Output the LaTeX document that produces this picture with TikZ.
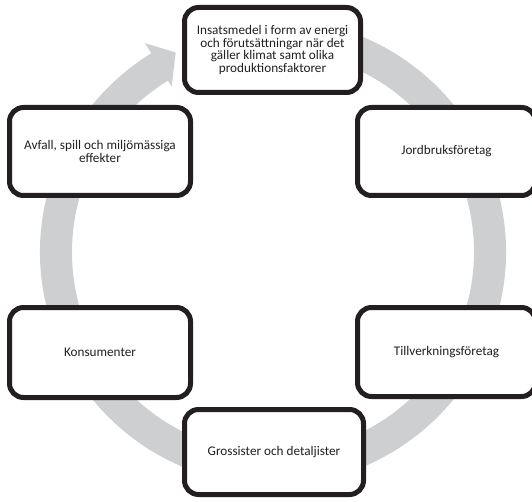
\documentclass[tikz,border=0pt]{standalone}
\usepackage{fontspec}
\setmainfont{Carlito}
\definecolor{ringc}{RGB}{206,207,209}
\definecolor{boxc}{RGB}{35,31,32}
\definecolor{txtc}{RGB}{35,31,32}
\begin{document}
\begin{tikzpicture}[x=1pt,y=1pt,
  stagebox/.style={draw=boxc, line width=5pt, rounded corners=14pt, fill=white,
    text=txtc, align=center, inner sep=2pt,
    font=\fontsize{13.2}{12.6}\selectfont}]
\useasboundingbox (0,0) rectangle (532,501);
\clip (0,0) rectangle (532,501);
% cycle ring with arrow head
\begin{scope}[shift={(273,249)}]
\fill[ringc] (75:233pt) arc[start angle=75, end angle=-238.5, radius=233pt]
  -- (-238.5:245pt) -- (-244:222pt) -- (-238.5:194pt) -- (-238.5:201pt)
  arc[start angle=-238.5, end angle=75, radius=201pt] -- cycle;
\end{scope}
% stages
\node[stagebox, minimum width=176pt, minimum height=85pt] (top) at (272.5,451)
  {Insatsmedel i form av energi\\och förutsättningar när det\\gäller klimat samt olika\\produktionsfaktorer};
\node[stagebox, minimum width=178pt, minimum height=88pt] (jord) at (446.5,349.5)
  {Jordbruksföretag};
\node[stagebox, minimum width=178pt, minimum height=89pt] (till) at (446.5,149)
  {Tillverkningsföretag};
\node[stagebox, minimum width=179pt, minimum height=85pt] (gross) at (274,49)
  {Grossister och detaljister};
\node[stagebox, minimum width=181pt, minimum height=90pt] (kons) at (100,148.5)
  {Konsumenter};
\node[stagebox, minimum width=181pt, minimum height=88pt] (avfall) at (100,349.5)
  {Avfall, spill och miljömässiga\\effekter};
\end{tikzpicture}
\end{document}
